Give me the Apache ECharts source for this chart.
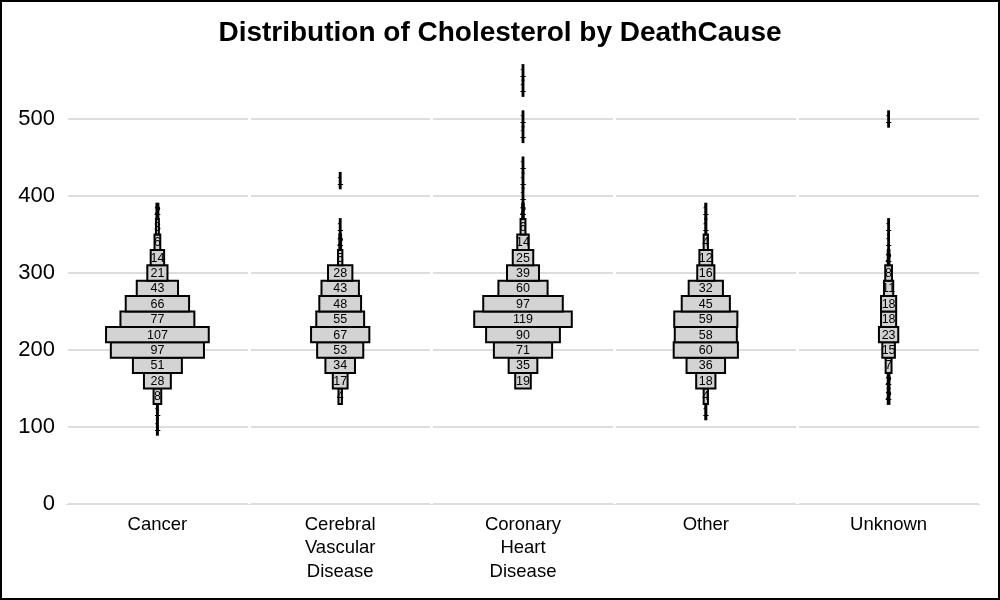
<!DOCTYPE html>
<html>
<head>
<meta charset="utf-8">
<script src="https://cdn.jsdelivr.net/npm/echarts@6/dist/echarts.min.js"></script>
<style>
html,body{margin:0;padding:0;background:#fff;}
#chart{width:1000px;height:600px;}
</style>
</head>
<body>
<div id="chart"></div>
<script>
// ---- data ----
const categories = ['Cancer', 'Cerebral\nVascular\nDisease', 'Coronary\nHeart\nDisease', 'Other', 'Unknown'];
// lower edges of the 20-unit cholesterol bins
const binLows = [90,110,130,150,170,190,210,230,250,270,290,310,330,350,370,390,410,430,450,470,490,510,530,550];
const binWidth = 20;
const cancerCounts    = [1,1,8,28,51,97,107,77,66,43,21,14,6,3,2,0,0,0,0,0,0,0,0,0];
const cerebralCounts  = [0,0,4,17,34,53,67,55,48,43,28,5,2,1,0,0,1,0,0,0,0,0,0,0];
const coronaryCounts  = [0,0,0,19,35,71,90,119,97,60,39,25,14,6,2,1,1,1,0,1,1,0,1,1];
const otherCounts     = [0,1,4,18,36,60,58,59,45,32,16,12,4,1,1,0,0,0,0,0,0,0,0,0];
const unknownCounts   = [0,0,2,2,7,15,23,18,18,11,8,2,1,1,0,0,0,0,0,0,1,0,0,0];
const yTicks = [0,100,200,300,400,500];

// ---- styling ----
const countSeries = [cancerCounts, cerebralCounts, coronaryCounts, otherCounts, unknownCounts];
const pxPerCount = [0.96, 0.87, 0.82, 1.07, 0.84];
const FONT = '"Liberation Sans", Arial, sans-serif';

const data = [];
countSeries.forEach((arr, ci) => {
  arr.forEach((c, bi) => {
    if (c > 0) data.push([ci, binLows[bi], binLows[bi] + binWidth, c]);
  });
});

function renderItem(params, api) {
  const ci = api.value(0), lo = api.value(1), hi = api.value(2), cnt = api.value(3);
  const pLo = api.coord([ci, lo]);
  const pHi = api.coord([ci, hi]);
  const w = cnt * pxPerCount[ci];
  return {
    type: 'group',
    children: [
      { type: 'rect', shape: { x: pLo[0] - w / 2, y: pHi[1], width: w, height: pLo[1] - pHi[1] },
        style: { fill: '#d3d3d3', stroke: '#000', lineWidth: 2 } },
      { type: 'text', style: { text: String(cnt), x: pLo[0], y: (pLo[1] + pHi[1]) / 2 + 0.5,
        align: 'center', verticalAlign: 'middle', fill: '#000', font: '12.5px ' + FONT } }
    ]
  };
}

const chart = echarts.init(document.getElementById('chart'), null, { renderer: 'canvas' });
const gridColors = yTicks.map(() => '#dddddd').concat(['rgba(0,0,0,0)']);
chart.setOption({
  backgroundColor: '#fff',
  animation: false,
  title: {
    text: 'Distribution of Cholesterol by DeathCause',
    left: 'center', top: 14,
    textStyle: { fontFamily: FONT, fontSize: 28, fontWeight: 'bold', color: '#000' }
  },
  grid: { left: 66, right: 20, top: 57.4, bottom: 96 },
  xAxis: {
    type: 'category', data: categories, z: 1,
    axisLine: { show: false }, axisTick: { show: false },
    splitLine: { show: true, interval: 0, lineStyle: { color: '#fff', width: 3 } },
    axisLabel: { interval: 0, margin: 9, fontFamily: FONT, fontSize: 18.5, lineHeight: 23.5, color: '#000' }
  },
  yAxis: {
    type: 'value', min: 0, max: 580, interval: 100, z: 0,
    axisLine: { show: false }, axisTick: { show: false },
    splitLine: { show: true, lineStyle: { color: gridColors, width: 2 } },
    axisLabel: { margin: 11, fontFamily: FONT, fontSize: 22, color: '#000',
      formatter: v => (yTicks.indexOf(v) >= 0 ? String(v) : '') }
  },
  graphic: [{ type: 'rect', shape: { x: 1, y: 1, width: 998, height: 598 },
    style: { fill: 'none', stroke: '#000', lineWidth: 2 }, z: 100 }],
  series: [{ type: 'custom', renderItem: renderItem, data: data, encode: { x: 0, y: [1, 2] }, z: 2 }]
});
</script>
</body>
</html>
